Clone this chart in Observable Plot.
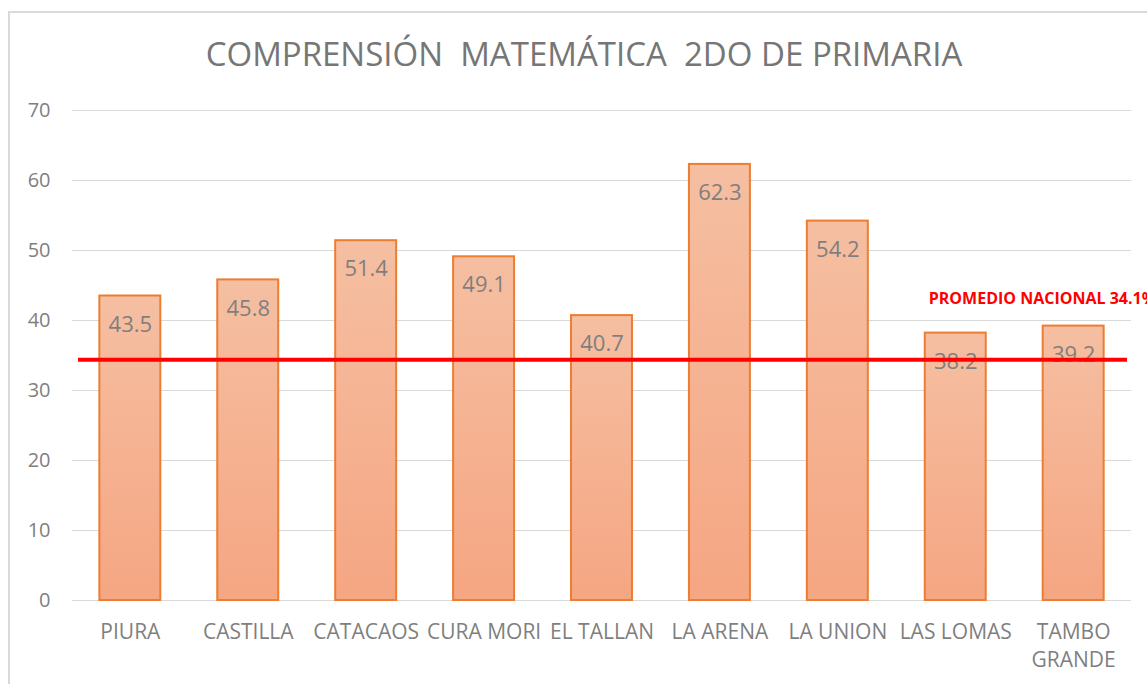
<!DOCTYPE html>
<html><head><meta charset="utf-8">
<script src="https://cdn.jsdelivr.net/npm/d3@7"></script>
<script src="https://cdn.jsdelivr.net/npm/@observablehq/plot@0.6"></script>
<style>
html,body{margin:0;padding:0;background:#fff;overflow:hidden;}
#wrap{position:relative;width:1147px;height:684px;overflow:hidden;background:#fff;}
#chart{position:absolute;left:0;top:0;}
#title{position:absolute;left:0;top:38px;width:1168px;text-align:center;font-family:"Open Sans",sans-serif;font-size:33px;line-height:32px;color:#767676;white-space:pre;}
#frame{position:absolute;left:8px;top:11px;width:1300px;height:900px;border:2px solid #d9d9d9;box-sizing:border-box;pointer-events:none;}
</style></head><body>
<div id="wrap"><div id="chart"></div><div id="frame"></div><div id="title">COMPRENSIÓN  MATEMÁTICA  2DO DE PRIMARIA</div></div>
<script>
const categories = ["PIURA","CASTILLA","CATACAOS","CURA MORI","EL TALLAN","LA ARENA","LA UNION","LAS LOMAS","TAMBO GRANDE"];
const categoryLabels = ["PIURA","CASTILLA","CATACAOS","CURA MORI","EL TALLAN","LA ARENA","LA UNION","LAS LOMAS","TAMBO\nGRANDE"];
const values = [43.5,45.8,51.4,49.1,40.7,62.3,54.2,38.2,39.2];
const yTicks = [0,10,20,30,40,50,60,70];
const promedio = 34.4;
const promedioTexto = "PROMEDIO NACIONAL 34.1%";
const promedioCategoria = "LAS LOMAS";

const data = categories.map((c,i)=>({categoria:c, valor:values[i]}));

const chart = Plot.plot({
  width:1147, height:684,
  marginLeft:72, marginRight:16, marginTop:110, marginBottom:84,
  style:{fontFamily:"'Open Sans', sans-serif", fontSize:"20px", color:"#7f7f7f", background:"transparent", overflow:"visible"},
  x:{domain:categories, paddingInner:0.483, paddingOuter:0.232, round:false, label:null},
  y:{domain:[0,70], label:null},
  marks:[
    Plot.gridY(yTicks, {stroke:"#d9d9d9", strokeOpacity:1, strokeWidth:1}),
    Plot.barY(data, {x:"categoria", y:"valor", fill:"url(#barGrad)", stroke:"#ED7D31", strokeWidth:2}),
    Plot.text(data, {x:"categoria", y:"valor", text:d=>d.valor.toFixed(1), lineAnchor:"top", dy:20, fontSize:22, fill:"#7f7f7f"}),
    Plot.ruleY([promedio], {stroke:"#ff0000", strokeWidth:4, insetLeft:6, insetRight:4}),
    Plot.text([{categoria:promedioCategoria, valor:promedio, texto:promedioTexto}], {x:"categoria", y:"valor", text:"texto", textAnchor:"start", lineAnchor:"middle", dx:-27, dy:-61, fill:"#ff0000", fontWeight:"bold", fontSize:16}),
    Plot.axisY(yTicks, {tickSize:0, tickPadding:22, fontSize:20, fill:"#7f7f7f"}),
    Plot.axisX({tickSize:0, tickPadding:18, fontSize:21, fill:"#7f7f7f", lineHeight:1.36, tickFormat:d=>categoryLabels[categories.indexOf(d)]})
  ]
});
const ns = "http://www.w3.org/2000/svg";
const defs = document.createElementNS(ns, "defs");
defs.innerHTML = '<linearGradient id="barGrad" x1="0" y1="0" x2="0" y2="1"><stop offset="0" stop-color="#F5BFA2"/><stop offset="1" stop-color="#F5A682"/></linearGradient>';
chart.insertBefore(defs, chart.firstChild);
document.getElementById("chart").appendChild(chart);
</script>
</body></html>
